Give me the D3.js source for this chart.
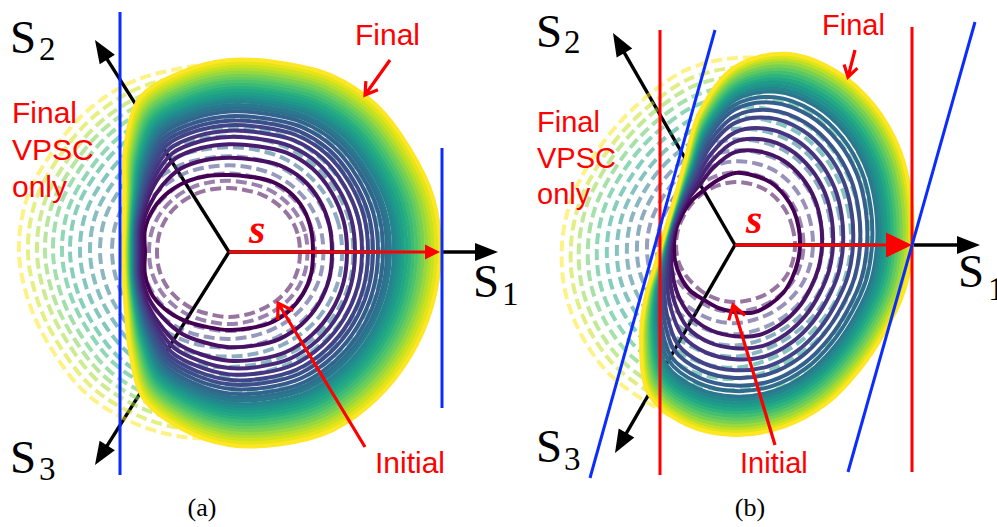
<!DOCTYPE html>
<html><head><meta charset="utf-8">
<script src="https://cdn.jsdelivr.net/npm/d3@7"></script>
<style>body{margin:0;background:#fff}svg{display:block}</style>
</head><body>
<svg id="c" width="997" height="527"></svg>
<script>
// ---------- data (deviatoric-plane stress units) ----------
const angles = [0,15,30,45,60,75,90,105,120,135,150,165,180,195,210,225,240,255,270,285,300,315,330,345];

// Panel (a)
const solidInitialA = [0.84,0.85,0.86,0.85,0.82,0.78,0.77,0.79,0.82,0.85,0.87,0.87,0.84,0.87,0.88,0.85,0.81,0.78,0.78,0.79,0.82,0.84,0.85,0.85];
const solidFinalA   = [2.11,2.11,2.08,2.08,2.04,1.96,1.92,1.86,1.78,1.47,1.21,1.09,1.06,1.09,1.19,1.40,1.70,1.83,1.93,1.99,2.06,2.08,2.09,2.10];
const solidReachA   = [0.84,1.03,1.18,1.26,1.33,1.39,1.44,1.49,1.54,1.58,1.61,1.65,1.68,1.71,1.74,1.775,1.81,1.84,1.875,1.91,1.94,1.975,2.01,2.04,2.075,2.11];
const dashedInitialA = [0.71,0.71,0.70,0.68,0.66,0.64,0.64,0.65,0.67,0.69,0.71,0.72,0.72,0.72,0.71,0.69,0.67,0.65,0.65,0.65,0.66,0.68,0.70,0.71];
const dashedFinalA   = [2.00,2.00,1.99,1.98,1.96,1.92,1.89,1.90,1.96,2.00,2.03,2.09,2.10,2.06,2.02,2.01,1.96,1.91,1.86,1.88,1.92,1.96,1.98,2.00];
const dashedReachA   = [0.72,0.80,0.88,0.97,1.07,1.17,1.29,1.39,1.49,1.59,1.67,1.76,1.84,1.92,2.01,2.10];
const axisTipsA = [[2.69,0],[-1.34,2.12],[-1.34,-2.13]];
const guidesA = [
  {c:"blue", p:[[-1.09,2.40],[-1.09,-2.23]]},
  {c:"blue", p:[[2.13,1.04],[2.13,-1.56]]}
];
const noteFinalA = [[1.61,1.92],[1.36,1.57]];
const noteInitialA = [[1.36,-1.95],[0.49,-0.51]];

// Panel (b)
const solidInitialB = [0.65,0.66,0.68,0.70,0.72,0.72,0.72,0.67,0.63,0.62,0.61,0.61,0.61,0.62,0.63,0.64,0.63,0.65,0.67,0.70,0.69,0.68,0.66,0.65];
const solidFinalB   = [1.77,1.82,1.90,1.97,2.01,1.98,1.78,1.37,0.99,0.81,0.73,0.71,0.74,0.83,1.03,1.33,1.72,1.86,1.90,1.88,1.83,1.76,1.73,1.75];
const solidReachB   = [0.65,0.87,0.98,1.08,1.18,1.25,1.32,1.37,1.42,1.45,1.48,1.51,1.54,1.57,1.60,1.63,1.66,1.69,1.72,1.745,1.77];
const dashedInitialB = [0.60,0.60,0.61,0.62,0.63,0.63,0.63,0.62,0.61,0.60,0.59,0.59,0.59,0.59,0.58,0.57,0.57,0.57,0.57,0.57,0.58,0.59,0.60,0.60];
const dashedFinalB   = [1.68,1.72,1.78,1.85,1.90,1.90,1.87,1.82,1.73,1.68,1.67,1.70,1.73,1.76,1.78,1.80,1.80,1.84,1.84,1.78,1.72,1.68,1.66,1.66];
const dashedReachB   = [0.59,0.68,0.78,0.88,0.98,1.08,1.18,1.28,1.38,1.47,1.56,1.64,1.73];
const axisTipsB = [[2.45,0],[-1.22,2.12],[-1.20,-2.08]];
const guidesB = [
  {c:"red",  p:[[-0.75,2.15],[-0.75,-2.30]]},
  {c:"red",  p:[[1.77,2.18],[1.77,-2.27]]},
  {c:"blue", p:[[-0.20,2.15],[-1.45,-2.33]]},
  {c:"blue", p:[[2.40,2.23],[1.13,-2.27]]}
];
const noteFinalB = [[1.20,1.95],[1.13,1.68]];
const noteInitialB = [[0.40,-2.00],[-0.02,-0.60]];

const axisNames = ["1","2","3"];

// ---------- drawing ----------
const svg = d3.select("#c");
const RED = "#ff0000", BLUE = "#0a2cff";
const rad = a => a*Math.PI/180;

function drawPanel(cfg){
  const g = svg.append("g");
  const sx = d3.scaleLinear().domain([0,1]).range([cfg.cx, cfg.cx+100]);
  const sy = d3.scaleLinear().domain([0,1]).range([cfg.cy, cfg.cy-100]);
  const P = p => [sx(p[0]), sy(p[1])];
  const closed = d3.line().x(p=>sx(p[0])).y(p=>sy(p[1])).curve(d3.curveCatmullRomClosed.alpha(0.5));
  const shape = (ri, rf, f) => angles.map((a,k)=>{
    const r = ri[k] + f*(rf[k]-ri[k]);
    return [r*Math.cos(rad(a)), r*Math.sin(rad(a))];
  });
  function arrow(from, to, color, w, hl, hw){
    const a = P(from), b = P(to);
    const L = Math.hypot(b[0]-a[0], b[1]-a[1]);
    const ux = (b[0]-a[0])/L, uy = (b[1]-a[1])/L;
    const bx = b[0]-ux*hl, by = b[1]-uy*hl;
    g.append("line").attr("x1",a[0]).attr("y1",a[1]).attr("x2",bx+ux*1).attr("y2",by+uy*1)
      .attr("stroke",color).attr("stroke-width",w);
    g.append("path").attr("d",`M${b[0]},${b[1]}L${bx-uy*hw},${by+ux*hw}L${bx+uy*hw},${by-ux*hw}Z`).attr("fill",color);
  }
  function note(from, to, len){
    const a = P(from), b = P(to);
    const L = Math.hypot(b[0]-a[0], b[1]-a[1]);
    const ux = (a[0]-b[0])/L, uy = (a[1]-b[1])/L;
    const ang = rad(32);
    const r1 = [ux*Math.cos(ang)-uy*Math.sin(ang), ux*Math.sin(ang)+uy*Math.cos(ang)];
    const r2 = [ux*Math.cos(-ang)-uy*Math.sin(-ang), ux*Math.sin(-ang)+uy*Math.cos(-ang)];
    g.append("path").attr("d",`M${a[0]},${a[1]}L${b[0]},${b[1]}M${b[0]+r1[0]*len},${b[1]+r1[1]*len}L${b[0]},${b[1]}L${b[0]+r2[0]*len},${b[1]+r2[1]*len}`)
      .attr("fill","none").attr("stroke",RED).attr("stroke-width",3.2).attr("stroke-linejoin","miter");
  }

  // axes (beneath contours)
  cfg.tips.forEach(t => arrow([0,0], t, "#000", 3.4, 23, 9));

  // dashed contours (VPSC only), beneath the solid ones
  const m = cfg.dReach.length;
  const d0 = cfg.dInit[12], d1 = cfg.dFinal[12];
  cfg.dReach.forEach((r,i)=>{
    const f = (r - d0)/(d1 - d0);
    g.append("path").attr("d", closed(shape(cfg.dInit, cfg.dFinal, f)))
      .attr("fill","none").attr("stroke", d3.interpolateViridis(i/(m-1)))
      .attr("stroke-opacity", 0.55).attr("stroke-width", 4).attr("stroke-dasharray","11,5");
  });

  // solid contours (mixed model)
  const n = cfg.reach.length;
  const r0 = cfg.solidInit[0], r1 = cfg.solidFinal[0];
  cfg.reach.forEach((r,i)=>{
    const f = (r - r0)/(r1 - r0);
    g.append("path").attr("d", closed(shape(cfg.solidInit, cfg.solidFinal, f)))
      .attr("fill","none").attr("stroke", d3.interpolateViridis(i/(n-1)))
      .attr("stroke-width", 4);
  });

  // guide lines
  cfg.guides.forEach(l=>{
    const a = P(l.p[0]), b = P(l.p[1]);
    g.append("line").attr("x1",a[0]).attr("y1",a[1]).attr("x2",b[0]).attr("y2",b[1])
      .attr("stroke", l.c==="red"?RED:BLUE).attr("stroke-width",3);
  });

  // stress arrow s
  arrow([0,0],[cfg.reach[n-1],0], RED, 3.2, cfg.sHead[0], cfg.sHead[1]);

  // annotations
  note(cfg.noteFinal[0], cfg.noteFinal[1], cfg.noteLen[0]);
  note(cfg.noteInitial[0], cfg.noteInitial[1], cfg.noteLen[1]);

  // texts
  const T = cfg.text;
  const sans = "'Liberation Sans', Arial, sans-serif", serif = "'Liberation Serif', 'Times New Roman', serif";
  T.S.forEach((s,k)=>{
    g.append("text").attr("x",s[0]).attr("y",s[1]).attr("font-family",serif).attr("font-size",47).text("S");
    g.append("text").attr("x",s[2]).attr("y",s[3]).attr("font-family",serif).attr("font-size",33).text(axisNames[k]);
  });
  g.append("text").attr("x",T.final[0]).attr("y",T.final[1]).attr("font-family",sans).attr("font-size",T.fs).attr("fill",RED).text("Final");
  ["Final","VPSC","only"].forEach((w,k)=>{
    g.append("text").attr("x",T.vpsc[0]).attr("y",T.vpsc[1]+k*T.vpsc[2]).attr("font-family",sans).attr("font-size",T.fs).attr("fill",RED).text(w);
  });
  g.append("text").attr("x",T.initial[0]).attr("y",T.initial[1]).attr("font-family",sans).attr("font-size",T.fs).attr("fill",RED).text("Initial");
  g.append("text").attr("x",T.s[0]).attr("y",T.s[1]).attr("font-family",serif).attr("font-style","italic").attr("font-weight","bold").attr("font-size",42).attr("fill",RED).text("s");
  g.append("text").attr("x",T.cap[0]).attr("y",T.cap[1]).attr("text-anchor","middle").attr("font-family",serif).attr("font-size",26).text(T.cap[2]);
}

drawPanel({cx:229, cy:252, solidInit:solidInitialA, solidFinal:solidFinalA, reach:solidReachA,
  dInit:dashedInitialA, dFinal:dashedFinalA, dReach:dashedReachA, tips:axisTipsA, guides:guidesA,
  noteFinal:noteFinalA, noteInitial:noteInitialA, noteLen:[14,17], sHead:[15,7.5],
  text:{fs:30, S:[[473,297,502,305],[10,53,39,60],[10,473,39,480]], final:[355,45], vpsc:[12,123,37], initial:[375,473], s:[249,243], cap:[202,516,"(a)"]}});

drawPanel({cx:735, cy:245, solidInit:solidInitialB, solidFinal:solidFinalB, reach:solidReachB,
  dInit:dashedInitialB, dFinal:dashedFinalB, dReach:dashedReachB, tips:axisTipsB, guides:guidesB,
  noteFinal:noteFinalB, noteInitial:noteInitialB, noteLen:[13,16], sHead:[26,12.5],
  text:{fs:29, S:[[958,287,988,300],[536,47,564,53],[536,462,564,470]], final:[822,35], vpsc:[537,132,36], initial:[740,473], s:[746,233], cap:[750,516,"(b)"]}});
</script>
</body></html>
